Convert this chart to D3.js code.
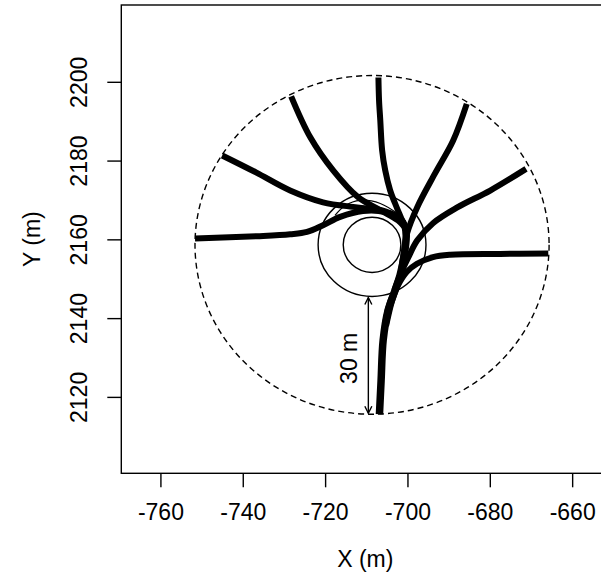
<!DOCTYPE html>
<meta charset="utf-8">
<style>
html, body { margin: 0; background: white; }
text { font-family: "Liberation Sans", Arial, sans-serif; fill: black; }
</style>
<body>
<script src="https://d3js.org/d3.v7.min.js"></script>
<script>

var width = 601,
    height = 576;

// arena: centre, radii (m)
var centre = [-708.6, 2158.6];
var outerR = 43;
var innerRadii = [7, 13.1];

var xTicks = [-760, -740, -720, -700, -680, -660];
var yTicks = [2120, 2140, 2160, 2180, 2200];

// shared stem running to the bottom of the arena
var trunk = [[-700.6, 2163.6], [-700.3, 2161.0], [-700.8, 2155.9], [-701.8, 2150.9],
             [-703.0, 2147.1], [-704.7, 2142.0], [-705.9, 2134.4], [-706.4, 2124.2], [-706.8, 2115.6]];

// branches, from the outer circle in to the stem
var branchTop = [[-707.05, 2201.1], [-706.9, 2195.3], [-706.6, 2190.2], [-706.15, 2182.6],
                 [-705.4, 2177.5], [-704.2, 2172.4], [-703.0, 2169.1], [-701.5, 2165.3], [-700.6, 2163.0]];
var branchUL2 = [[-728.25, 2196.3], [-723.6, 2185.9], [-718.05, 2177.5], [-712.0, 2170.7],
                 [-706.6, 2167.4], [-702.3, 2164.8], [-700.6, 2163.0]];
var branchUL = [[-745.0, 2181.3], [-736.8, 2177.0], [-728.5, 2172.4], [-720.5, 2169.4],
                [-712.2, 2168.1], [-705.4, 2167.1], [-701.3, 2164.8], [-700.4, 2162.5]];
var branchLeft = [[-751.6, 2160.2], [-736.5, 2160.8], [-728.5, 2161.3], [-724.4, 2161.9],
                  [-720.5, 2163.6], [-716.35, 2165.7], [-710.8, 2167.2], [-705.4, 2166.9],
                  [-701.3, 2164.8], [-700.4, 2162.5]];
var branchUR = [[-685.6, 2194.4], [-688.9, 2185.1], [-693.3, 2176.75], [-697.65, 2168.1],
                [-700.1, 2161.5], [-700.8, 2157.2], [-701.6, 2152.0]];
var branchRU = [[-671.2, 2177.9], [-679.9, 2172.4], [-687.9, 2168.1], [-693.8, 2164.1],
                [-697.65, 2159.7], [-699.8, 2155.4], [-701.8, 2150.9], [-703.2, 2147.0]];
var branchRight = [[-665.8, 2156.4], [-677.5, 2156.3], [-689.6, 2156.1], [-693.8, 2155.5],
                   [-697.7, 2153.8], [-700.2, 2151.7], [-702.3, 2148.3], [-703.7, 2144.5],
                   [-705.2, 2138.0]];

// a few single stray tracks
var strayA = [[-702.75, 2148.8], [-704.7, 2144.5], [-705.9, 2139.4], [-706.4, 2133.1]];
var strayB = [[-717.6, 2166.1], [-715.1, 2168.6], [-711.5, 2169.9], [-706.6, 2169.1], [-701.8, 2166.1]];

var branches = [branchTop, branchUL2, branchUL, branchLeft, branchUR, branchRU, branchRight];
var strays = [strayA, strayB];

var margin = {left: 121.3, top: 5, right: 622.8, bottom: 473.3};

var x = d3.scaleLinear().domain([-769.5, -647.7]).range([margin.left, margin.right]);
var y = d3.scaleLinear().domain([2100.6, 2219.5]).range([margin.bottom, margin.top]);

var svg = d3.select("body").append("svg")
    .attr("width", width)
    .attr("height", height);

var line = d3.line()
    .x(d => x(d[0]))
    .y(d => y(d[1]))
    .curve(d3.curveCatmullRom);

// arena circles
var cx = x(centre[0]), cy = y(centre[1]);
function ell(r) {
    return svg.append("ellipse")
        .attr("cx", cx).attr("cy", cy)
        .attr("rx", x(centre[0] + r) - cx)
        .attr("ry", cy - y(centre[1] + r))
        .attr("fill", "none")
        .attr("stroke", "black");
}
ell(outerR).attr("stroke-width", 1.4).attr("stroke-dasharray", "6,4");
innerRadii.forEach(r => ell(r).attr("stroke-width", 1.4));

// tracks
var tracks = svg.append("g").attr("fill", "none").attr("stroke", "black");
tracks.selectAll("path.stray")
    .data(strays)
  .enter().append("path")
    .attr("class", "stray")
    .attr("d", line)
    .attr("stroke-width", 1.2);
tracks.append("path")
    .datum(trunk)
    .attr("d", line)
    .attr("stroke-width", 7.5);
tracks.selectAll("path.branch")
    .data(branches)
  .enter().append("path")
    .attr("class", "branch")
    .attr("d", line)
    .attr("stroke-width", 6);

// 30 m scale arrow
var ax = x(centre[0] - 0.9);
var ay0 = y(centre[1] - innerRadii[1]), ay1 = y(centre[1] - outerR);
var arrow = svg.append("g").attr("stroke", "black").attr("stroke-width", 1.4).attr("fill", "none");
arrow.append("line").attr("x1", ax).attr("x2", ax).attr("y1", ay0 + 1).attr("y2", ay1 - 1);
arrow.append("path").attr("d", `M${ax - 3.5},${ay0 + 8}L${ax},${ay0 + 1}L${ax + 3.5},${ay0 + 8}`);
arrow.append("path").attr("d", `M${ax - 3.5},${ay1 - 8}L${ax},${ay1 - 1}L${ax + 3.5},${ay1 - 8}`);
svg.append("text")
    .attr("transform", `translate(${ax - 11},${(ay0 + ay1) / 2 + 3}) rotate(-90)`)
    .attr("text-anchor", "middle")
    .attr("font-size", 23)
    .text("30 m");

// frame
svg.append("rect")
    .attr("x", margin.left).attr("y", margin.top)
    .attr("width", margin.right - margin.left)
    .attr("height", margin.bottom - margin.top)
    .attr("fill", "none")
    .attr("stroke", "black")
    .attr("stroke-width", 1.4);

// axes
var xAxis = svg.append("g")
    .attr("transform", `translate(0,${margin.bottom})`)
    .call(d3.axisBottom(x).tickValues(xTicks).tickSize(14).tickPadding(16).tickFormat(d => String(d)));
var yAxis = svg.append("g")
    .attr("transform", `translate(${margin.left},0)`)
    .call(d3.axisLeft(y).tickValues(yTicks).tickSize(14).tickFormat(d => String(d)));
[xAxis, yAxis].forEach(a => {
    a.select(".domain").remove();
    a.selectAll(".tick line").attr("stroke-width", 1.4);
    a.selectAll("text").attr("font-size", 23).attr("font-family", "Liberation Sans, Arial, sans-serif");
});
xAxis.selectAll("text").attr("dy", "0.71em");
yAxis.selectAll("text")
    .attr("x", null).attr("dy", null)
    .attr("text-anchor", "middle")
    .attr("transform", "translate(-34,0) rotate(-90)");

svg.append("text")
    .attr("x", (x(-760) + x(-660)) / 2 - 1)
    .attr("y", 567)
    .attr("text-anchor", "middle")
    .attr("font-size", 23)
    .text("X (m)");
svg.append("text")
    .attr("transform", `translate(40,${(margin.top + margin.bottom) / 2}) rotate(-90)`)
    .attr("text-anchor", "middle")
    .attr("font-size", 23)
    .text("Y (m)");

</script>
